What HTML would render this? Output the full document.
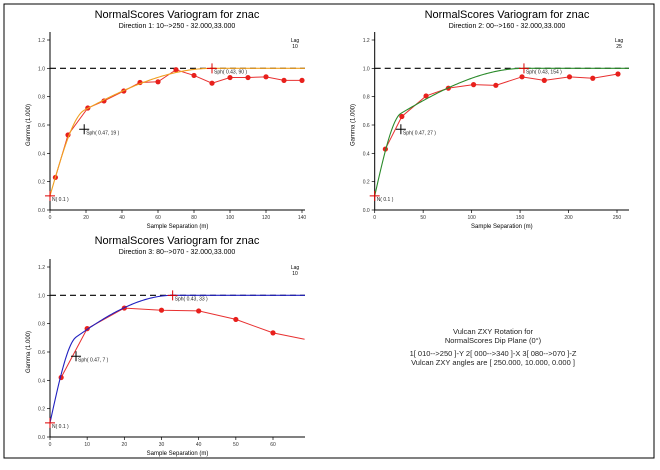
<!DOCTYPE html>
<html><head><meta charset="utf-8"><style>
body{margin:0;background:#fff;width:660px;height:465px;overflow:hidden;font-family:"Liberation Sans",sans-serif}
svg text{font-family:"Liberation Sans",sans-serif}
</style></head><body>
<svg id="s" width="660" height="465" xmlns="http://www.w3.org/2000/svg">
<rect x="4" y="4" width="650" height="454" fill="none" stroke="#000" stroke-width="1"/>
<g font-size="7.5" text-anchor="middle" fill="#222">
<text x="493" y="334">Vulcan ZXY Rotation for</text>
<text x="493" y="343">NormalScores Dip Plane (0°)</text>
<text x="493" y="356">1[ 010--&gt;250 ]-Y   2[ 000--&gt;340 ]-X   3[ 080--&gt;070 ]-Z</text>
<text x="493" y="365">Vulcan ZXY angles are [ 250.000, 10.000, 0.000 ]</text>
</g>
</svg>
<script>
const p1Lags=[3,10,21,30,41,50,60,70,80,90,100,110,120,130,140];
const p1Gamma=[0.23,0.53,0.72,0.77,0.84,0.90,0.905,0.99,0.95,0.895,0.935,0.935,0.94,0.915,0.915];
const p1Model=[0.1,0.47,19,0.43,90];
const p1Ticks=[0,20,40,60,80,100,120,140];
const p2Lags=[11,28,53,76,102,125,152,175,201,225,251];
const p2Gamma=[0.43,0.66,0.805,0.86,0.885,0.88,0.94,0.915,0.94,0.93,0.96];
const p2Model=[0.1,0.47,27,0.43,154];
const p2Ticks=[0,50,100,150,200,250];
const p3Lags=[3,10,20,30,40,50,60,68.5];
const p3Gamma=[0.42,0.765,0.91,0.895,0.89,0.83,0.735,0.69];
const p3Model=[0.1,0.47,7,0.43,33];
const p3Ticks=[0,10,20,30,40,50,60];
const yTicks=[0,0.2,0.4,0.6,0.8,1.0,1.2];

const svg=document.getElementById('s');
const NS='http://www.w3.org/2000/svg';
function mk(t,a,parent){const e=document.createElementNS(NS,t);for(const k in a)e.setAttribute(k,a[k]);(parent||svg).appendChild(e);return e;}
function sph(h,a){return h>=a?1:1.5*h/a-0.5*Math.pow(h/a,3);}

function panel(o){
  const g=mk('g',{});
  
  
  const X=v=>o.x0+(v-0)*(o.x1-o.x0)/o.xv1;
  const Y=v=>o.y0-v*(o.y0-o.y12)/1.2;
  let t=mk('text',{x:o.cx,y:o.ty,'font-size':11,'text-anchor':'middle'},g);t.textContent='NormalScores  Variogram for znac';
  
  t=mk('text',{x:o.cx,y:o.ty+10,'font-size':7,'text-anchor':'middle'},g);t.textContent=o.sub;
  
  // axes
  const ax=mk('path',{d:`M${o.x0},${o.y12-8}V${o.y0}H${o.xe}`,stroke:'#000',fill:'none','stroke-width':1},g);
  
  yTicks.forEach(v=>{mk('line',{x1:o.x0-3,x2:o.x0,y1:Y(v),y2:Y(v),stroke:'#000','stroke-width':0.7},g);
    const l=mk('text',{x:o.x0-5,y:Y(v)+2,'font-size':5,'text-anchor':'end',fill:'#333'},g);l.textContent=v.toFixed(1);
    });
  o.ticks.forEach(v=>{mk('line',{x1:X(v),x2:X(v),y1:o.y0,y2:o.y0+3,stroke:'#000','stroke-width':0.7},g);
    const l=mk('text',{x:X(v),y:o.y0+9,'font-size':5,'text-anchor':'middle',fill:'#333'},g);l.textContent=v;
    });
  t=mk('text',{x:0,y:0,'font-size':6,'text-anchor':'middle',transform:`translate(${o.x0-20},${(o.y0+o.y12)/2}) rotate(-90)`},g);t.textContent='Gamma (1.000)';
  
  t=mk('text',{x:(o.x0+o.xe)/2,y:o.y0+18,'font-size':6,'text-anchor':'middle'},g);t.textContent='Sample Separation (m)';
  
  t=mk('text',{x:o.xe-10,y:o.y12+2,'font-size':5,'text-anchor':'middle'},g);t.textContent='Lag';
  
  t=mk('text',{x:o.xe-10,y:o.y12+8,'font-size':5,'text-anchor':'middle'},g);t.textContent=o.lag;
  
  // sill dashed
  const sl=mk('line',{x1:o.x0,x2:o.xe,y1:Y(1),y2:Y(1),stroke:'#000','stroke-width':1.2,'stroke-dasharray':'6,4'},g);
  
  // experimental
  let d='';o.lags.forEach((h,i)=>{d+=(i?'L':'M')+X(h)+','+Y(o.gam[i]);});
  const el=mk('path',{d:d,stroke:'#e83030',fill:'none','stroke-width':1},g);
  
  o.lags.forEach((h,i)=>{if(o.noLastDot&&i==o.lags.length-1)return;
    const c=mk('circle',{cx:X(h),cy:Y(o.gam[i]),r:2.6,fill:'#e8201c'},g);
    });
  // model
  const m=o.model;let md='';
  const n=200;for(let i=0;i<=n;i++){const h=o.xv1*(o.xe-o.x0)/(o.x1-o.x0)*i/n;
    const gv=m[0]+m[1]*sph(h,m[2])+m[3]*sph(h,m[4]);md+=(i?'L':'M')+X(h).toFixed(2)+','+Y(gv).toFixed(2);}
  const ml=mk('path',{d:md,stroke:o.mc,fill:'none','stroke-width':1.1},g);
  
  // markers
  const marks=[[0,m[0],'#d00','N( '+m[0]+' )'],[m[2],m[0]+m[1],'#000','Sph( '+m[1]+', '+m[2]+' )'],[m[4],1,'#d00','Sph( '+m[3]+', '+m[4]+' )']];
  marks.forEach(k=>{const x=X(k[0]),y=Y(k[1]);
    mk('path',{d:`M${x-5},${y}H${x+5}M${x},${y-5}V${y+5}`,stroke:k[2],'stroke-width':1},g);
    const l=mk('text',{x:x+2,y:y+5,'font-size':5,fill:'#222'},g);l.textContent=k[3];
    });
}
panel({name:'direction-1-chart',x0:50,x1:302,xv1:140,xe:305,y0:210,y12:40,cx:177,ty:18,sub:'Direction 1: 10-->250 - 32.000,33.000',lags:p1Lags,gam:p1Gamma,model:p1Model,ticks:p1Ticks,mc:'#f0a020',lag:'10'});
panel({name:'direction-2-chart',x0:374.7,x1:617,xv1:250,xe:629,y0:210,y12:40,cx:507,ty:18,sub:'Direction 2: 00-->160 - 32.000,33.000',lags:p2Lags,gam:p2Gamma,model:p2Model,ticks:p2Ticks,mc:'#2a8a2a',lag:'25'});
panel({name:'direction-3-chart',x0:50,x1:273,xv1:60,xe:305,y0:437,y12:267,cx:177,ty:244,sub:'Direction 3: 80-->070 - 32.000,33.000',lags:p3Lags,gam:p3Gamma,model:p3Model,ticks:p3Ticks,mc:'#2020c0',lag:'10',noLastDot:true});
</script>
</body></html>
